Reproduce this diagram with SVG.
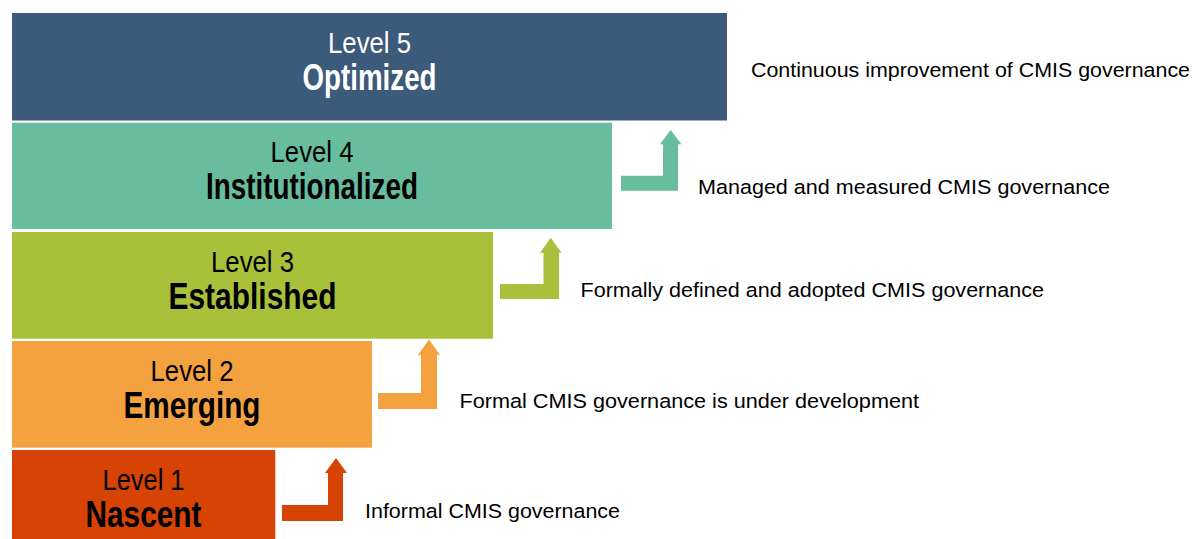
<svg xmlns="http://www.w3.org/2000/svg" width="1195" height="539" viewBox="0 0 1195 539">
  <style>
    .lvl { font-family: "Liberation Sans Narrow", "Liberation Sans", Arial, sans-serif; font-size: 30px; text-anchor: middle; }
    .name { font-family: "Liberation Sans Narrow", "Liberation Sans", Arial, sans-serif; font-size: 36px; font-weight: bold; text-anchor: middle; }
    .desc { font-family: "Liberation Sans", Arial, sans-serif; font-size: 20.5px; fill: #000; }
    .dark { fill: #000; }
    .light { fill: #fff; }
  </style>
  <rect x="0" y="0" width="1195" height="539" fill="#fff"/>

  <g id="level5">
    <rect x="12" y="13" width="715" height="107.5" fill="#3C5A7A"/>
    <text class="lvl light" x="369.5" y="52.5" textLength="83" lengthAdjust="spacingAndGlyphs">Level 5</text>
    <text class="name light" x="369.5" y="89.5" textLength="134" lengthAdjust="spacingAndGlyphs">Optimized</text>
  </g>
  <g id="level4">
    <rect x="12" y="122.7" width="600" height="106.3" fill="#68BD9E"/>
    <text class="lvl dark" x="312" y="162" textLength="83" lengthAdjust="spacingAndGlyphs">Level 4</text>
    <text class="name dark" x="312" y="199" textLength="212" lengthAdjust="spacingAndGlyphs">Institutionalized</text>
  </g>
  <g id="level3">
    <rect x="12" y="232" width="481" height="106.7" fill="#A9C03B"/>
    <text class="lvl dark" x="252.5" y="271.5" textLength="83" lengthAdjust="spacingAndGlyphs">Level 3</text>
    <text class="name dark" x="252.5" y="308.5" textLength="168" lengthAdjust="spacingAndGlyphs">Established</text>
  </g>
  <g id="level2">
    <rect x="12" y="341" width="360" height="106.7" fill="#F4A140"/>
    <text class="lvl dark" x="192" y="380.5" textLength="83" lengthAdjust="spacingAndGlyphs">Level 2</text>
    <text class="name dark" x="192" y="417.5" textLength="137" lengthAdjust="spacingAndGlyphs">Emerging</text>
  </g>
  <g id="level1">
    <rect x="12" y="450" width="263.3" height="110" fill="#D64305"/>
    <text class="lvl dark" x="143.5" y="489.5" textLength="82" lengthAdjust="spacingAndGlyphs">Level 1</text>
    <text class="name dark" x="143.5" y="526.5" textLength="116" lengthAdjust="spacingAndGlyphs">Nascent</text>
  </g>

  <g id="connectors">
    <path d="M282,505 H328 V473 H325 L336,458 L347,473 H343 V521 H282 Z" fill="#D64305"/>
    <path d="M378,393 H421 V355 H418 L429,339.5 L440,355 H437 V409 H378 Z" fill="#F4A140"/>
    <path d="M500,284 H543.5 V252.7 H540 L550.7,237.7 L561.5,252.7 H559 V299 H500 Z" fill="#A9C03B"/>
    <path d="M621,175.7 H663 V144.3 H660 L670.7,130 L681.5,144.3 H678 V190.7 H621 Z" fill="#68BD9E"/>
  </g>

  <g id="labels">
    <text class="desc" x="751" y="76.5" textLength="439" lengthAdjust="spacingAndGlyphs">Continuous improvement of CMIS governance</text>
    <text class="desc" x="698" y="194" textLength="412" lengthAdjust="spacingAndGlyphs">Managed and measured CMIS governance</text>
    <text class="desc" x="580.5" y="296.7" textLength="463.5" lengthAdjust="spacingAndGlyphs">Formally defined and adopted CMIS governance</text>
    <text class="desc" x="459.5" y="408.3" textLength="459.5" lengthAdjust="spacingAndGlyphs">Formal CMIS governance is under development</text>
    <text class="desc" x="365" y="518.3" textLength="255" lengthAdjust="spacingAndGlyphs">Informal CMIS governance</text>
  </g>
</svg>
